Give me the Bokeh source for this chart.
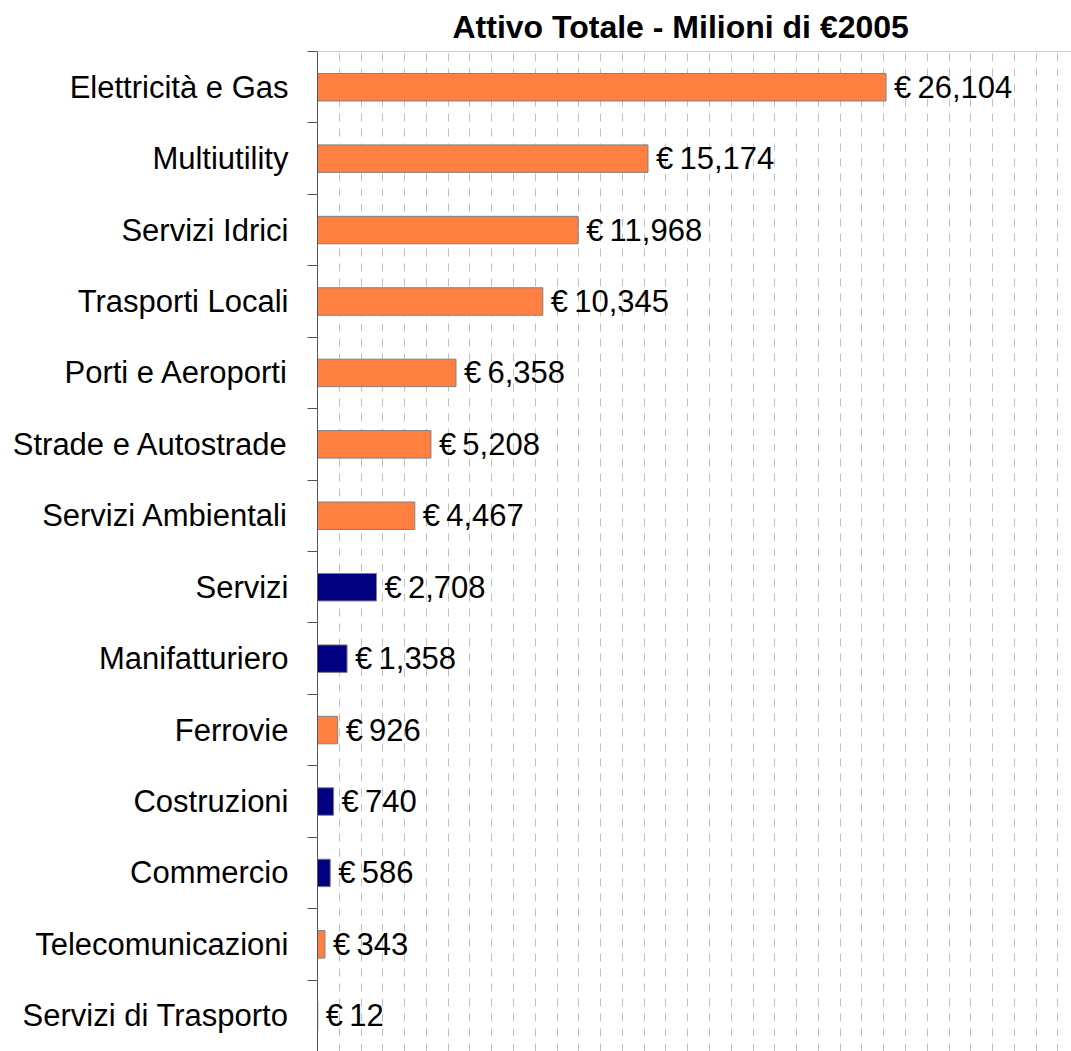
from bokeh.plotting import figure
from bokeh.models import ColumnDataSource, Range1d, FixedTicker, SingleIntervalTicker, Span
from bokeh.core.properties import value
from bokeh.embed import file_html
from bokeh.resources import INLINE

categories = [
    "Elettricità e Gas", "Multiutility", "Servizi Idrici", "Trasporti Locali",
    "Porti e Aeroporti", "Strade e Autostrade", "Servizi Ambientali", "Servizi",
    "Manifatturiero", "Ferrovie", "Costruzioni", "Commercio",
    "Telecomunicazioni", "Servizi di Trasporto",
]
values = [26104, 15174, 11968, 10345, 6358, 5208, 4467, 2708, 1358, 926, 740, 586, 343, 12]
groups = ["utility"] * 7 + ["altro", "altro", "utility", "altro", "altro", "utility", "utility"]
palette = {"utility": "#FF8040", "altro": "#000080"}
title_text = "Attivo Totale - Milioni di €2005"

n = len(categories)
ypos = [n - 1 - i for i in range(n)]
labels = ["€\u2009{:,}".format(v) for v in values]
colors = [palette[g] for g in groups]

src = ColumnDataSource(dict(cat=categories, y=ypos, val=values, lab=labels, color=colors))

FONT = "Liberation Sans"
FS = "31px"

p = figure(width=1071, height=1051, output_backend="svg", toolbar_location=None,
           x_range=Range1d(0, 34620), y_range=Range1d(-0.5, n - 0.5),
           min_border_left=317, min_border_right=0, min_border_bottom=0, min_border_top=51)

p.outline_line_color = None
p.background_fill_color = "white"
p.border_fill_color = "white"

# grids
p.ygrid.visible = False
p.xgrid.ticker = SingleIntervalTicker(interval=1000)
p.xgrid.grid_line_color = "#c0c0c0"
p.xgrid.grid_line_dash = "8 7"
p.xgrid.grid_line_width = 1
p.xaxis.visible = False

# top border of the plot area
p.add_layout(Span(location=n - 0.5, dimension="width", line_color="#a0a0a0", line_width=1))

p.hbar(y="y", left=0, right="val", height=0.385, fill_color="color",
       line_color="#808080", line_width=1, source=src)

p.text(x="val", y="y", text="lab", x_offset=8, text_baseline="middle", text_align="left",
       text_font=value(FONT), text_font_size=FS, text_color="black", source=src)

ax = p.yaxis[0]
ax.ticker = FixedTicker(ticks=ypos, minor_ticks=[k - 0.5 for k in range(n + 1)])
ax.major_label_overrides = {y: c for y, c in zip(ypos, categories)}
ax.major_tick_out = 0
ax.major_tick_in = 0
ax.minor_tick_out = 10
ax.minor_tick_in = 0
ax.minor_tick_line_color = "#555555"
ax.axis_line_color = "#555555"
ax.axis_line_width = 1
ax.major_label_standoff = 19
ax.major_label_text_font = FONT
ax.major_label_text_font_size = FS
ax.major_label_text_color = "black"

p.title.text = title_text
p.title.text_font = FONT
p.title.text_font_style = "bold"
p.title.text_font_size = "32px"
p.title.text_color = "black"
p.title.align = "left"
p.title.offset = 135
p.title.standoff = 13

open("out.html", "w").write(file_html(p, INLINE))
